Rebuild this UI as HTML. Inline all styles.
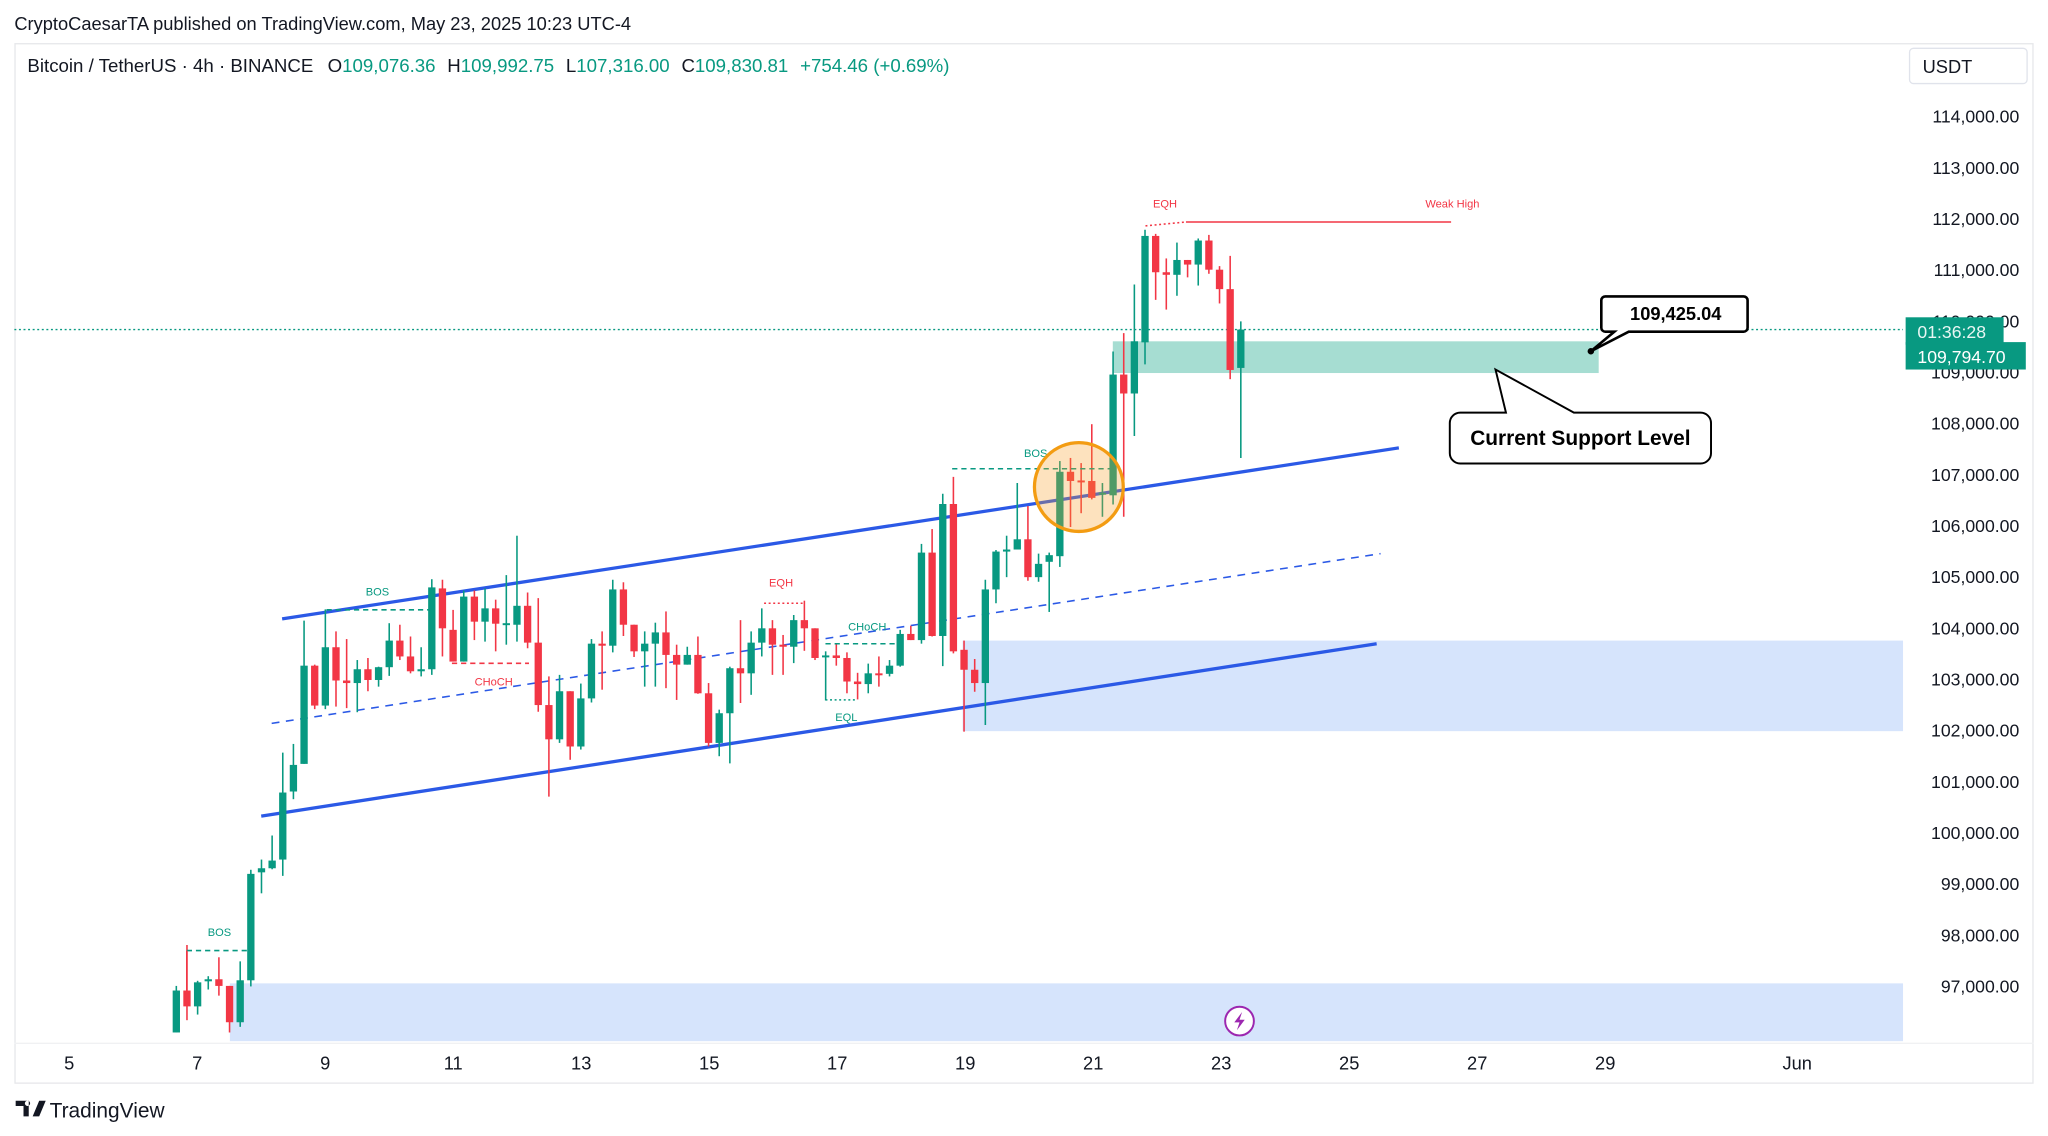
<!DOCTYPE html>
<html><head><meta charset="utf-8"><style>
html,body{margin:0;padding:0;background:#fff;}
svg{display:block;font-family:"Liberation Sans",sans-serif;}
</style></head><body>
<svg id="chart" width="2048" height="1136" viewBox="0 0 1568 870" preserveAspectRatio="none" xmlns="http://www.w3.org/2000/svg">
<rect width="1568" height="870" fill="#fff"/>
<text x="11" y="23" font-size="14" fill="#131722">CryptoCaesarTA published on TradingView.com, May 23, 2025 10:23 UTC-4</text>
<rect x="11.5" y="33.5" width="1545" height="796" fill="none" stroke="#e6e7ea"/>
<line x1="11" y1="799" x2="1557" y2="799" stroke="#f0f1f3"/>
<g id="zones"></g>
<g id="lines"></g>
<g id="candles"></g>
<g id="annot"></g>
<text x="21" y="55" font-size="14.3" fill="#131722">Bitcoin / TetherUS · 4h · BINANCE <tspan dx="7">O</tspan><tspan fill="#089981">109,076.36</tspan><tspan dx="9">H</tspan><tspan fill="#089981">109,992.75</tspan><tspan dx="9">L</tspan><tspan fill="#089981">107,316.00</tspan><tspan dx="9">C</tspan><tspan fill="#089981">109,830.81</tspan><tspan dx="9" fill="#089981">+754.46 (+0.69%)</tspan></text>
<rect x="1462" y="37" width="90" height="27" rx="3" fill="#fff" stroke="#e0e3eb"/>
<text x="1472" y="56" font-size="14" fill="#131722">USDT</text>
<g id="yaxis"></g>
<g id="xaxis"></g>
<g>
<path d="M12 843h10v12h-4v-8h-6z M25 855l5-12h5l-5 12z M21 843a2 2 0 1 0 0.1 0" fill="#131722"/>
<text x="38" y="856" font-size="16" fill="#131722">TradingView</text>
</g>
</svg>
<script>
const dayLabels=["5","7","9","11","13","15","17","19","21","23","25","27","29","Jun"];
const dayValues=[5,7,9,11,13,15,17,19,21,23,25,27,29,32];
const priceTicks=[97,98,99,100,101,102,103,104,105,106,107,108,109,110,111,112,113,114];
const opens=[96.09,96.91,96.60,97.09,97.13,97.00,96.29,97.11,99.22,99.30,99.47,100.80,101.34,103.26,102.48,103.62,102.97,102.92,103.19,102.98,103.23,103.75,103.44,103.15,103.19,
104.77,103.96,103.34,104.61,104.12,104.38,104.08,104.06,104.43,103.71,102.49,101.82,102.76,101.68,102.62,103.69,103.65,104.75,104.06,103.54,103.69,103.91,103.47,103.28,103.47,102.72,101.75,102.33,103.21,103.11,
103.71,103.99,103.67,103.63,104.15,103.99,103.44,103.46,103.41,102.95,102.90,103.11,103.10,103.26,103.88,103.76,105.47,103.84,106.42,103.57,103.18,102.92,104.75,105.49,105.53,105.73,
104.99,105.29,105.40,107.05,106.88,106.87,106.61,106.59,108.95,108.58,109.58,111.66,110.95,110.90,111.19,111.10,111.57,111.00,110.62,109.08];
const highs=[97.00,97.80,97.10,97.19,97.56,97.00,97.48,99.27,99.47,99.94,101.56,101.73,104.14,103.28,104.36,103.93,103.78,103.37,103.41,103.24,104.09,104.06,103.83,103.62,104.95,
104.94,104.35,104.73,104.73,104.77,104.55,105.03,105.80,104.69,104.58,103.05,103.08,102.76,102.91,103.78,103.93,104.94,104.89,104.06,103.93,104.10,104.32,103.67,103.63,103.83,102.92,102.40,103.24,104.15,103.93,
104.38,104.15,103.86,104.25,104.53,103.99,103.54,103.70,103.52,103.12,103.30,103.44,103.37,103.96,104.04,105.64,105.93,106.62,106.95,103.75,103.39,104.94,105.52,105.80,106.83,106.38,
105.45,105.47,107.26,107.32,107.22,107.98,106.83,109.40,109.76,110.71,111.78,111.70,111.22,111.53,111.19,111.61,111.68,111.07,111.27,109.99];
const lows=[96.09,96.33,96.44,96.93,96.81,96.09,96.20,96.99,98.81,99.28,99.15,100.65,101.34,102.41,102.41,102.46,102.43,102.35,102.76,102.85,103.06,103.37,103.11,103.05,103.08,
103.44,103.34,103.34,103.76,103.73,103.54,103.67,103.73,103.60,102.36,100.70,101.75,101.42,101.62,102.54,102.79,103.52,103.84,103.43,102.85,102.85,102.82,102.59,103.28,102.71,101.68,101.49,101.35,102.53,102.69,
103.44,103.08,103.08,103.31,103.55,103.37,102.58,103.26,102.72,102.60,102.72,102.85,103.05,103.24,103.76,103.69,103.83,103.25,103.50,101.97,102.75,102.10,104.48,104.99,105.53,104.92,
104.90,104.31,105.19,105.97,106.24,106.51,106.17,106.41,106.17,107.75,109.15,110.41,110.22,110.49,110.85,110.69,110.92,110.34,108.86,107.32];
const closes=[96.91,96.60,97.07,97.13,97.00,96.29,97.11,99.19,99.30,99.45,100.78,101.32,103.26,102.48,103.62,102.97,102.92,103.19,102.98,103.23,103.75,103.44,103.15,103.19,104.79,
103.99,103.34,104.61,104.12,104.38,104.08,104.09,104.43,103.71,102.49,101.82,102.76,101.68,102.62,103.69,103.65,104.75,104.06,103.54,103.69,103.91,103.47,103.28,103.47,102.72,101.75,102.33,103.21,103.11,103.71,
103.99,103.67,103.63,104.15,103.99,103.41,103.46,103.41,102.95,102.90,103.11,103.10,103.26,103.88,103.76,105.47,103.84,106.42,103.54,103.18,102.92,104.75,105.49,105.53,105.73,104.99,
105.25,105.42,107.05,106.87,106.87,106.54,106.64,108.95,108.58,109.60,111.66,110.95,110.90,111.19,111.10,111.57,111.00,110.62,109.04,109.83];

const NS="http://www.w3.org/2000/svg";
const yP=p=>89+(114-p)*39.18;
const xD=d=>151+(d-7)*49;
const xI=i=>135+i*8.15;
function mk(tag,attrs,parent){const e=document.createElementNS(NS,tag);for(const k in attrs)e.setAttribute(k,attrs[k]);parent.appendChild(e);return e;}
const zones=document.getElementById('zones'),lines=document.getElementById('lines'),cg=document.getElementById('candles'),an=document.getElementById('annot');

let z;
z=mk('rect',{x:176,y:yP(97.05),width:1281,height:yP(95.92)-yP(97.05),fill:'#d6e4fc'},zones);


z=mk('rect',{x:737,y:yP(103.75),width:720,height:yP(101.98)-yP(103.75),fill:'#d6e4fc'},zones);


z=mk('rect',{x:852,y:yP(109.6),width:372,height:yP(108.98)-yP(109.6),fill:'#a6ddd2'},zones);



let l;
l=mk('line',{x1:11,y1:yP(109.83),x2:1457,y2:yP(109.83),stroke:'#089981','stroke-width':1,'stroke-dasharray':'1.5 2'},lines);


l=mk('line',{x1:216,y1:474,x2:1071,y2:343,stroke:'#2b59e6','stroke-width':2.5},lines);


l=mk('line',{x1:200,y1:625,x2:1054,y2:493,stroke:'#2b59e6','stroke-width':2.5},lines);


l=mk('line',{x1:208,y1:554,x2:1057,y2:424,stroke:'#2b59e6','stroke-width':1.2,'stroke-dasharray':'6 5'},lines);



function dash(x1,y1,x2,y2,c,da,name){const e=mk('line',{x1,y1,x2,y2,stroke:c,'stroke-width':1.2,'stroke-dasharray':da},an);return e;}
function lab(x,y,t,c,name,fs){const e=mk('text',{x,y,'font-size':fs||8.5,fill:c,'text-anchor':'middle'},an);e.textContent=t;return e;}
const G='#089981',R='#f23645';
dash(143,728,190,728,G,'4 3','bos-line-1');dash(143,728,143,760,R,'none','bos-wick');lab(168,717,'BOS',G,'bos-label-1');
dash(250,467,330,467,G,'4 3','bos-line-2');lab(289,456,'BOS',G,'bos-label-2');
dash(346,508,405,508,R,'4 3','choch-line-1');lab(378,525,'CHoCH',R,'choch-label-1');
dash(585,462,615,462,R,'1.5 2','eqh-line-1');lab(598,449,'EQH',R,'eqh-label-1');
dash(632,493,688,493,G,'4 3','choch-line-2');lab(664,483,'CHoCH',G,'choch-label-2');
dash(632,536,656,536,G,'1.5 2','eql-line');lab(648,552,'EQL',G,'eql-label');
dash(729,359,852,359,G,'4 3','bos-line-3');lab(793,350,'BOS',G,'bos-label-3');
dash(877,173,908,170,R,'1.5 2','eqh-line-2');lab(892,159,'EQH',R,'eqh-label-2');
dash(908,170,1111,170,R,'none','weak-high-line');lab(1112,159,'Weak High',R,'weak-high-label',8.5);

for(let i=0;i<opens.length;i++){
  const up=closes[i]>=opens[i],col=up?'#089981':'#f23645',x=xI(i);
  const w=mk('line',{x1:x,y1:yP(highs[i]),x2:x,y2:yP(lows[i]),stroke:col,'stroke-width':1.2},cg);
  
  
  const top=yP(Math.max(opens[i],closes[i])),h=Math.max(1.5,Math.abs(yP(opens[i])-yP(closes[i])));
  const b=mk('rect',{x:x-2.8,y:top,width:5.6,height:h,fill:col},cg);
  
  
}

let c=mk('circle',{cx:826,cy:373,r:34,fill:'rgba(247,160,40,0.3)',stroke:'#f39c12','stroke-width':2.5},an);



let p=mk('path',{d:'M1229 227h106a3 3 0 0 1 3 3v21a3 3 0 0 1-3 3h-88l-29 15l18-15h-7a3 3 0 0 1-3-3v-21a3 3 0 0 1 3-3z',fill:'#fff',stroke:'#000','stroke-width':2},an);


mk('circle',{cx:1218,cy:269,r:2.5,fill:'#000'},an);
lab(1283,245,'109,425.04','#000','price-callout-text',14).setAttribute('font-weight','bold');
p=mk('path',{d:'M1118 316h35l-8-33l60 33h97a8 8 0 0 1 8 8v23a8 8 0 0 1-8 8h-184a8 8 0 0 1-8-8v-23a8 8 0 0 1 8-8z',fill:'#fff',stroke:'#000','stroke-width':1.5},an);


lab(1210,341,'Current Support Level','#000','support-callout-text',16).setAttribute('font-weight','bold');

c=mk('circle',{cx:949,cy:782,r:11,fill:'#fff',stroke:'#9c27b0','stroke-width':1.5},an);


mk('path',{d:'M951 775l-6 8h4l-2 6l6-8h-4z',fill:'#9c27b0'},an);

const ya=document.getElementById('yaxis');
priceTicks.forEach(v=>{
  const t=mk('text',{x:1546,y:yP(v)+5,'font-size':13.5,fill:'#131722','text-anchor':'end'},ya);
  t.textContent=(v*1000).toLocaleString('en-US',{minimumFractionDigits:2});
  
  
});
let r=mk('rect',{x:1459,y:243,width:75,height:21,fill:'#089981'},ya);


r=mk('rect',{x:1459,y:262,width:92,height:21,fill:'#089981'},ya);


let t=mk('text',{x:1468,y:259,'font-size':13.5,fill:'#e8f6f3'},ya);t.textContent='01:36:28';


t=mk('text',{x:1468,y:278,'font-size':13.5,fill:'#fff'},ya);t.textContent='109,794.70';



const xa=document.getElementById('xaxis');
dayLabels.forEach((s,i)=>{
  const e=mk('text',{x:xD(dayValues[i]),y:819,'font-size':14,fill:'#131722','text-anchor':'middle'},xa);
  e.textContent=s;
  
  
});
</script>
</body></html>
